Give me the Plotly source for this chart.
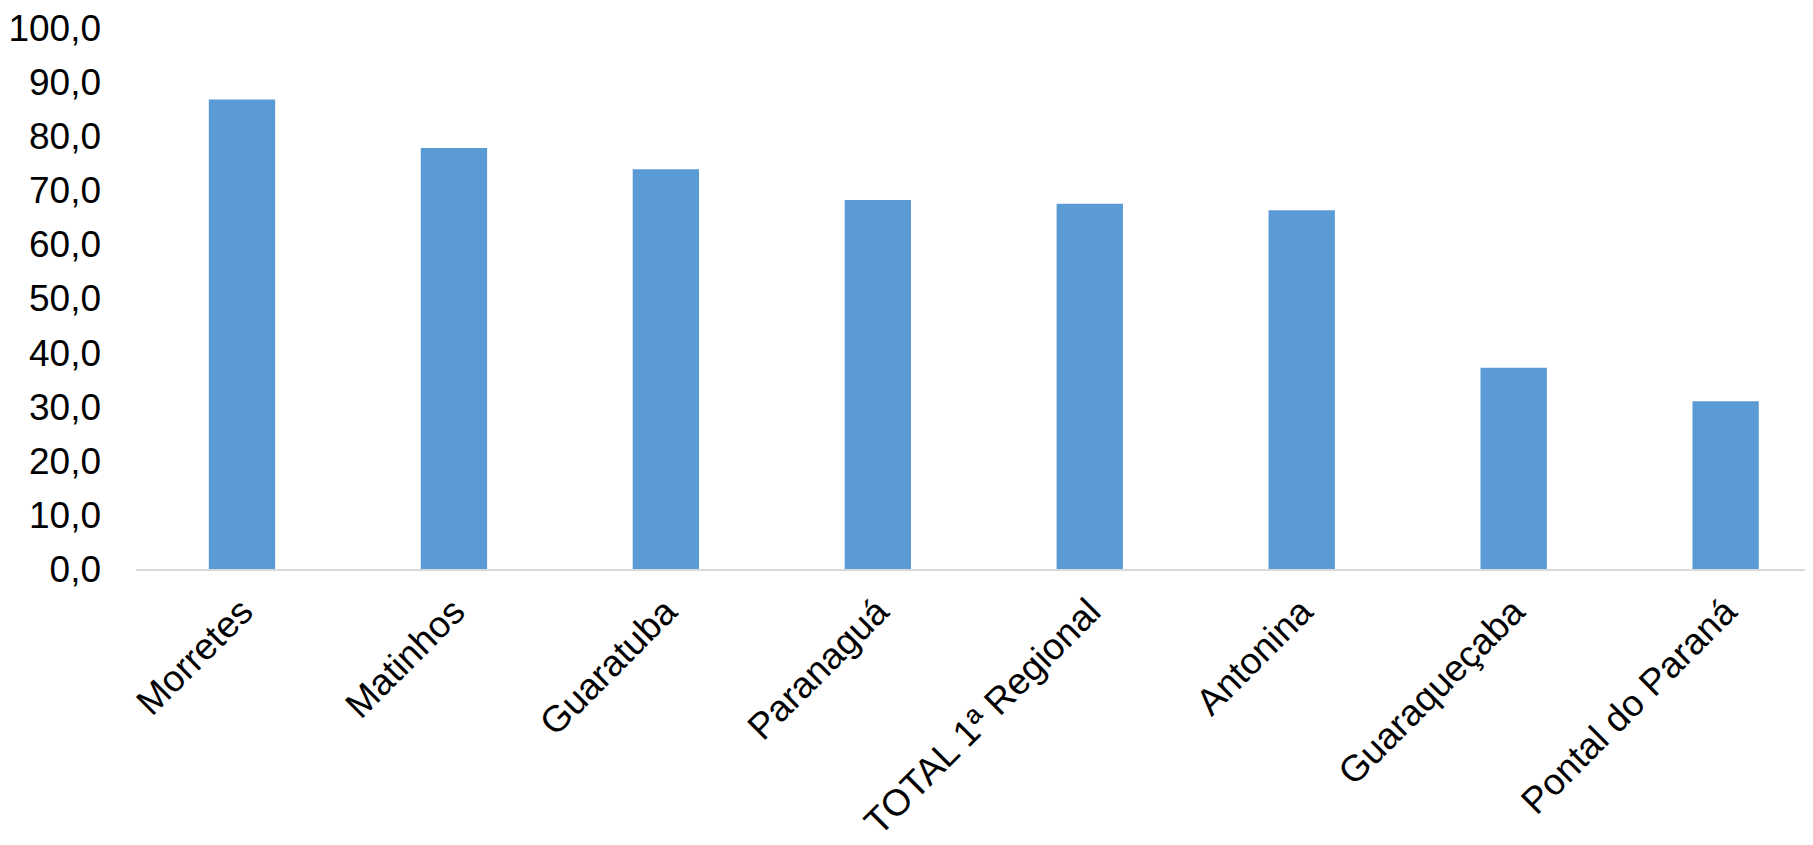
import plotly.graph_objects as go

categories = ["Morretes", "Matinhos", "Guaratuba", "Paranaguá", "TOTAL 1ª Regional",
              "Antonina", "Guaraqueçaba", "Pontal do Paraná"]
values = [86.8, 77.8, 73.9, 68.2, 67.5, 66.3, 37.2, 31.0]
y_ticks = [0, 10, 20, 30, 40, 50, 60, 70, 80, 90, 100]

fig = go.Figure()
fig.add_trace(go.Bar(
    x=list(range(len(categories))),
    y=values,
    marker=dict(color="#5B9BD5", line=dict(width=0)),
    width=0.313,
    hoverinfo="skip",
))

fig.update_layout(
    width=1813, height=845,
    margin=dict(l=128, r=0, t=18, b=284),
    paper_bgcolor="white", plot_bgcolor="white",
    separators=",.",
    showlegend=False,
    font=dict(family="Liberation Sans, Arial, sans-serif", size=37, color="black"),
)
fig.update_xaxes(
    tickmode="array",
    tickvals=list(range(len(categories))),
    ticktext=categories,
    tickangle=-45,
    range=[-0.5, 7.45],
    showline=True, linecolor="#D9D9D9", linewidth=2,
    showgrid=False, zeroline=False, ticks="",
    tickfont=dict(size=37, color="black"),
    ticklabelstandoff=4,
    ticklabeloverflow="allow",
)
fig.update_yaxes(
    range=[0, 100],
    tickmode="array",
    tickvals=y_ticks,
    tickformat=".1f",
    showgrid=False, zeroline=False, showline=False, ticks="",
    tickfont=dict(size=37, color="black"),
    ticklabelstandoff=34,
    ticklabeloverflow="allow",
)

fig.write_html("out.html")
